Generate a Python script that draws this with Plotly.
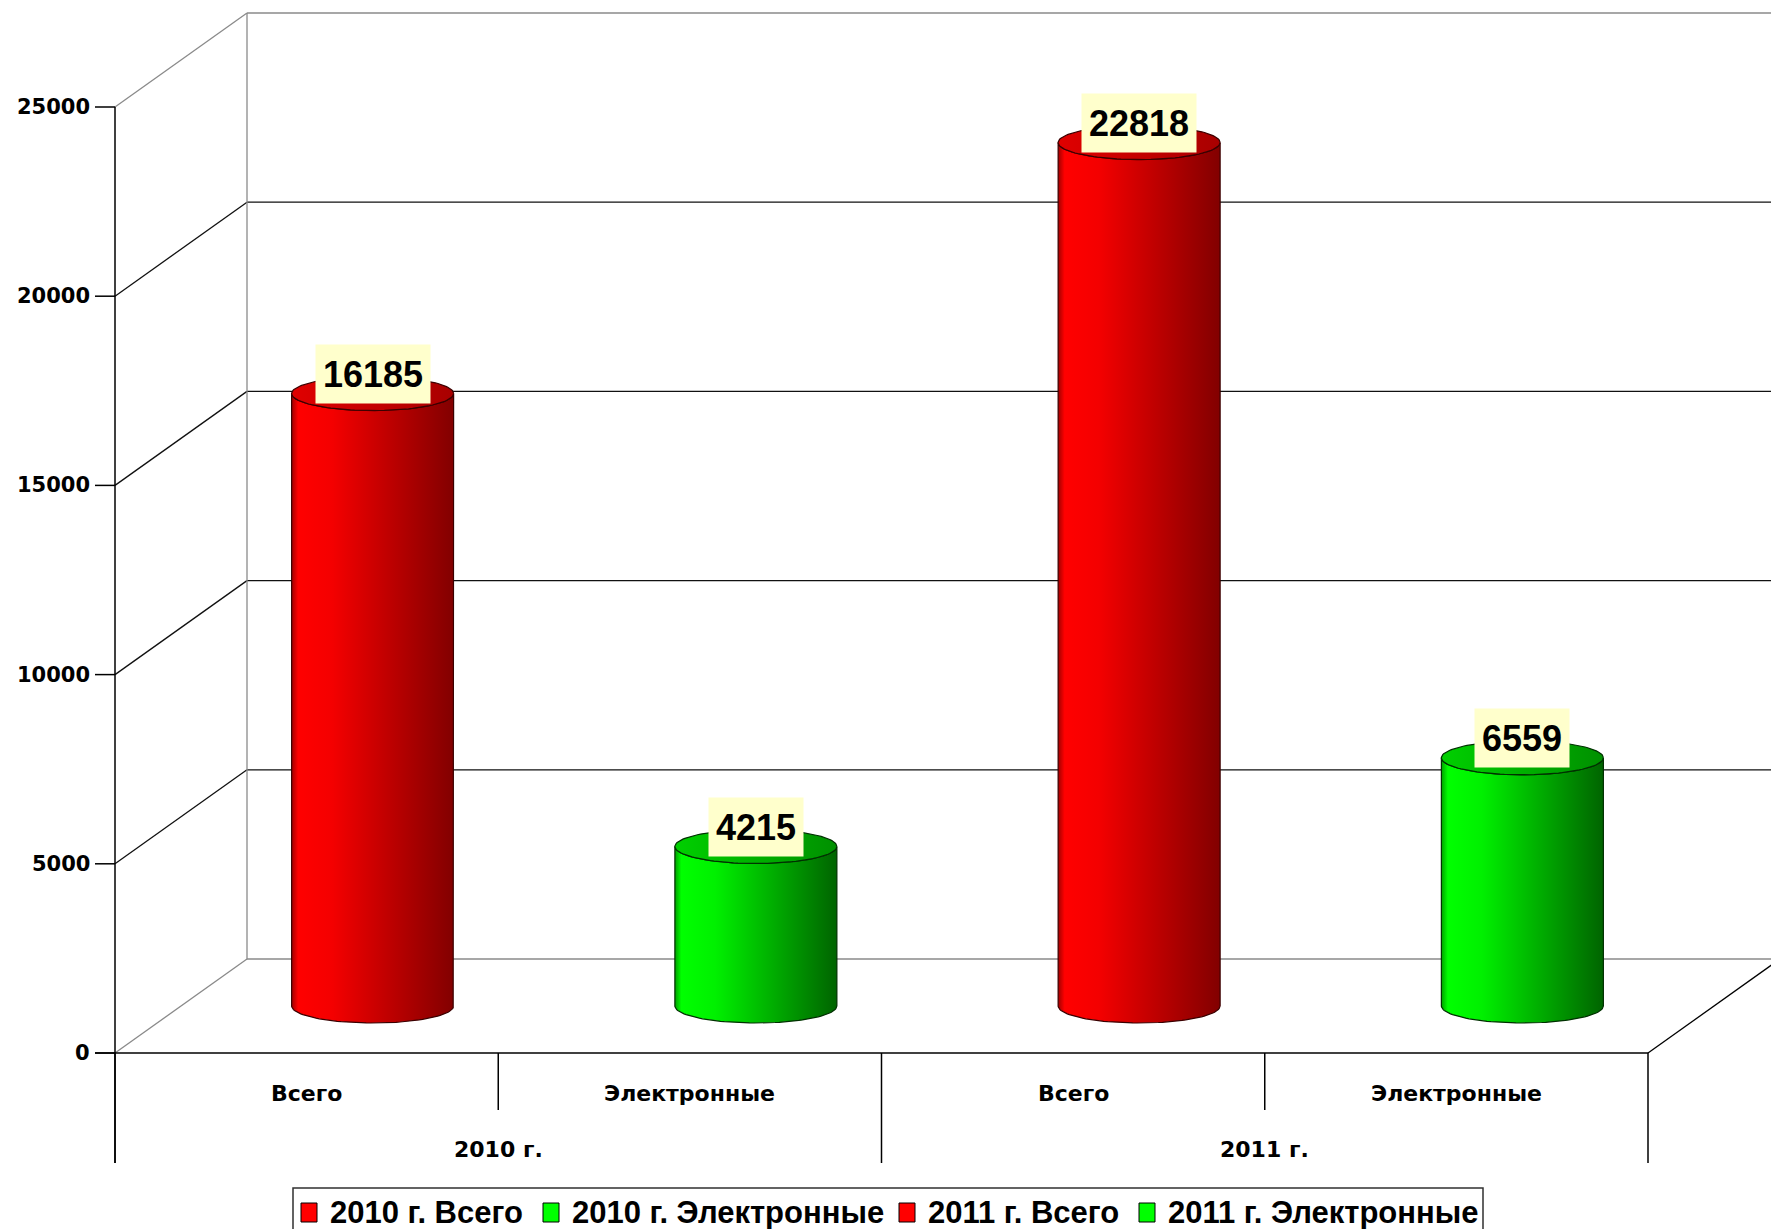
import numpy as np
import plotly.graph_objects as go

# ---------------- data ----------------
years = ["2010 г.", "2011 г."]
categories = ["Всего", "Электронные"]
values = [16185, 4215, 22818, 6559]          # 2010 Всего, 2010 Электронные, 2011 Всего, 2011 Электронные
series_names = ["2010 г. Всего", "2010 г. Электронные", "2011 г. Всего", "2011 г. Электронные"]
y_ticks = [0, 5000, 10000, 15000, 20000, 25000]
y_max = 25000

# ---------------- style / layout constants (pixels) ----------------
W, H = 1771, 1229
FX0, FX1 = 115, 1648        # front plot left / right
FY0, FYMAX = 1053, 107      # pixel rows of value 0 and y_max on the front plane
DX_PX, DY_PX = 132, 94      # depth offset of the back wall
RX_PX, RY_PX = 81, 17       # cylinder radii
LABEL_UP_PX = 20
LEGEND_X_PX = [301, 543, 899, 1139]

RED_BODY = [[0, "#A00000"], [0.04, "#FF0000"], [0.25, "#F40000"], [1, "#820000"]]
GREEN_BODY = [[0, "#00A000"], [0.04, "#00FF00"], [0.25, "#00F000"], [1, "#006400"]]
RED_TOP = [[0, "#E00000"], [1, "#A80000"]]
GREEN_TOP = [[0, "#00D000"], [1, "#009000"]]
series_style = [
    dict(body=RED_BODY, top=RED_TOP, line="#3a0000", legend="#FF0000"),
    dict(body=GREEN_BODY, top=GREEN_TOP, line="#003000", legend="#00FF00"),
    dict(body=RED_BODY, top=RED_TOP, line="#3a0000", legend="#FF0000"),
    dict(body=GREEN_BODY, top=GREEN_TOP, line="#003000", legend="#00FF00"),
]
AXIS_FONT = dict(family="DejaVu Sans", size=21, color="#000000", weight="bold")
CAT_FONT = dict(family="DejaVu Sans", size=22, color="#000000", weight="bold")

n = len(values)
XS = (FX1 - FX0) / n                 # px per category unit
YS = (FY0 - FYMAX) / y_max           # px per value unit


def X(px):
    return (px - FX0) / XS


def Y(py):
    return (FY0 - py) / YS


ddx = DX_PX / XS
ddy = DY_PX / YS
rx = RX_PX / XS
ry = RY_PX / YS

fig = go.Figure()
shapes = []
annotations = []


def line(x0, y0, x1, y1, color="#000000", width=1.3, layer="below"):
    shapes.append(dict(type="line", xref="x", yref="y", x0=x0, y0=y0, x1=x1, y1=y1,
                       line=dict(color=color, width=width), layer=layer))


# back wall + side wall grid
for t in y_ticks:
    edge = t in (0, y_max)
    col = "#8a8a8a" if edge else "#111111"
    line(ddx, t + ddy, X(W) + 1, t + ddy, color=col)
    line(0, t, ddx, t + ddy, color=col)
line(ddx, ddy, ddx, y_max + ddy, color="#8a8a8a")
line(n, 0, n + ddx, ddy, color="#000000")

# front axis
line(0, Y(1163), 0, y_max, color="#000000", width=1.5)
for t in y_ticks:
    line(X(95), t, 0, t, color="#000000", width=1.5)
line(X(95), 0, n, 0, color="#000000", width=1.5)
for i in range(n + 1):
    bottom = Y(1163) if i % 2 == 0 else Y(1110)
    line(i, 0, i, bottom, color="#000000", width=1.5)

# tick labels
for t in y_ticks:
    annotations.append(dict(x=X(92), y=t, xref="x", yref="y", text=str(t), showarrow=False,
                            xanchor="right", yanchor="middle", font=AXIS_FONT))

# category labels
for i in range(n):
    annotations.append(dict(x=i + 0.5, y=Y(1093), xref="x", yref="y", text=categories[i % 2],
                            showarrow=False, xanchor="center", yanchor="middle", font=CAT_FONT))
for j, yr in enumerate(years):
    annotations.append(dict(x=2 * j + 1, y=Y(1149), xref="x", yref="y", text=yr,
                            showarrow=False, xanchor="center", yanchor="middle", font=CAT_FONT))

# cylinders
th_front = np.linspace(np.pi, 2 * np.pi, 60)
th_full = np.linspace(0, 2 * np.pi, 120)
for i, v in enumerate(values):
    st = series_style[i]
    cx = i + 0.5 + ddx / 2
    base = ddy / 2
    top = base + v
    xs = ([cx - rx] + list(cx + rx * np.cos(th_front)) +
          list(cx + rx * np.cos(th_front[::-1])) + [cx - rx])
    ys = ([base] + list(top + ry * np.sin(th_front)) +
          list(base + ry * np.sin(th_front[::-1])) + [base])
    fig.add_trace(go.Scatter(x=xs, y=ys, mode="lines", fill="toself",
                             fillgradient=dict(type="horizontal", colorscale=st["body"]),
                             line=dict(color=st["line"], width=1.2),
                             hoverinfo="skip", showlegend=False, name=series_names[i]))
    fig.add_trace(go.Scatter(x=cx + rx * np.cos(th_full), y=top + ry * np.sin(th_full),
                             mode="lines", fill="toself",
                             fillgradient=dict(type="horizontal", colorscale=st["top"]),
                             line=dict(color=st["line"], width=1.2),
                             hoverinfo="skip", showlegend=False))
    label = str(v)
    annotations.append(dict(x=cx, y=top + LABEL_UP_PX / YS, xref="x", yref="y", text=label,
                            showarrow=False, xanchor="center", yanchor="middle",
                            bgcolor="#FFFFCC", borderpad=0,
                            width=20 * len(label) + 14, height=58,
                            font=dict(family="Liberation Sans", size=36, color="#000000",
                                      weight="bold")))

# legend
shapes.append(dict(type="rect", xref="x", yref="y", x0=X(293), x1=X(1483), y0=Y(1240), y1=Y(1188),
                   line=dict(color="#303030", width=1.5), fillcolor="rgba(0,0,0,0)", layer="above"))
for k, name in enumerate(series_names):
    px = LEGEND_X_PX[k]
    shapes.append(dict(type="rect", xref="x", yref="y", x0=X(px), x1=X(px + 16),
                       y0=Y(1222), y1=Y(1203), fillcolor=series_style[k]["legend"],
                       line=dict(color="#000000", width=1), layer="above"))
    annotations.append(dict(x=X(px + 27), y=Y(1212), xref="x", yref="y", text=name,
                            showarrow=False, xanchor="left", yanchor="middle",
                            font=dict(family="Liberation Sans", size=31, color="#000000",
                                      weight="bold")))

fig.update_layout(
    width=W, height=H,
    margin=dict(l=0, r=0, t=0, b=0),
    paper_bgcolor="white", plot_bgcolor="white",
    xaxis=dict(range=[X(0), X(W)], visible=False, fixedrange=True),
    yaxis=dict(range=[Y(H), Y(0)], visible=False, fixedrange=True),
    shapes=shapes, annotations=annotations, showlegend=False,
)

fig.write_html("out.html", config={"displayModeBar": False},
               post_script="document.body.style.margin='0';document.body.style.overflow='hidden';")
